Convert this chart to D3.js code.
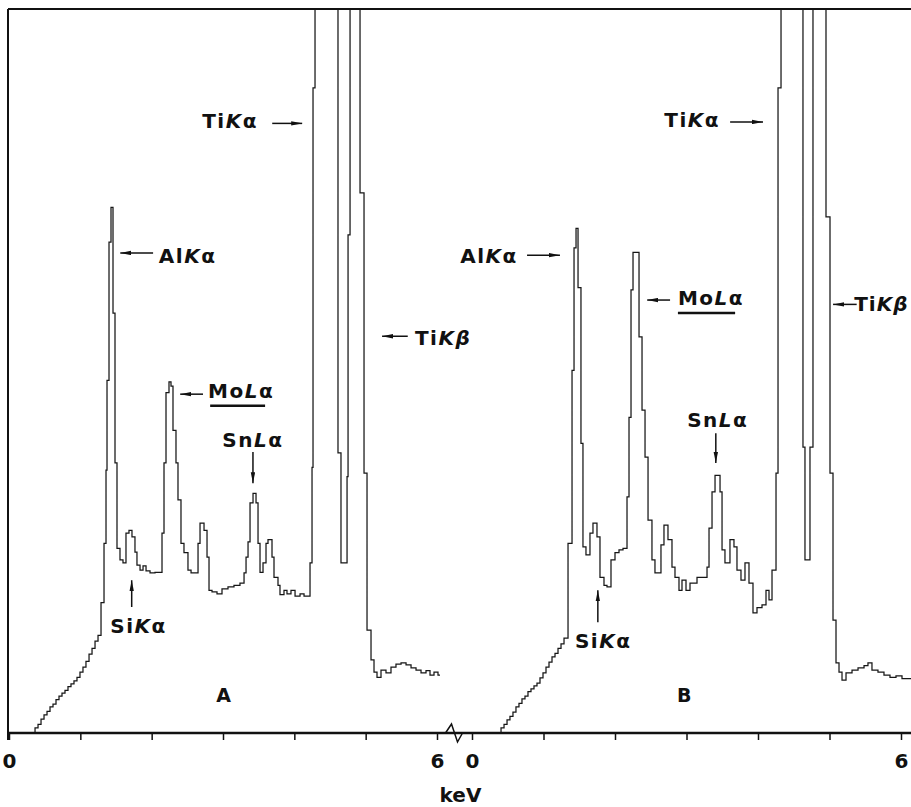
<!DOCTYPE html>
<html><head><meta charset="utf-8">
<script src="https://cdn.jsdelivr.net/npm/d3@7"></script>
<style>body{margin:0;background:#fff}svg{display:block}</style>
</head><body>
<script>
// ---- Spectrum A: channel edge energy (keV) and counts to the right of the edge (arb. units, full scale = 1000)
const energyA = [0.322,0.365,0.407,0.449,0.491,0.533,0.575,0.617,0.659,0.701,
  0.743,0.785,0.827,0.869,0.911,0.953,0.995,1.037,1.079,1.122,
  1.164,1.206,1.248,
  1.290,1.332,1.360,1.374,1.402,
  1.430,1.458,1.486,1.514,1.556,1.598,1.640,1.682,1.724,1.766,
  1.794,1.837,1.879,1.921,1.977,2.047,2.145,2.173,2.201,2.243,
  2.271,2.299,2.341,2.369,2.411,2.453,2.509,2.552,2.650,2.678,
  2.734,2.776,2.804,2.846,2.916,2.986,3.070,3.154,3.238,3.295,
  3.323,3.351,3.379,3.421,3.463,3.491,3.519,3.561,3.603,3.631,
  3.687,3.715,3.771,3.799,3.855,3.897,3.953,4.010,4.080,4.136,
  4.220,4.248,4.262,4.290,4.612,4.654,4.739,4.753,4.781,4.921,
  4.977,5.019,5.075,5.117,5.159,5.215,5.285,5.355,5.425,5.496,
  5.566,5.636,5.706,5.776,5.846,5.902,5.958,6.014,6.042];
const countsA = [0,7,12,19,25,30,36,40,46,51,
  55,59,64,68,72,77,84,91,99,109,
  117,127,135,
  180,262,363,487,678,
  726,580,373,255,239,235,276,280,271,250,
  232,225,231,224,221,222,276,373,470,485,
  479,418,373,322,262,249,225,221,262,290,
  280,243,197,195,192,199,202,204,207,221,
  243,264,318,331,318,262,222,235,262,267,
  243,215,204,191,197,192,197,189,192,189,
  235,367,891,3200,387,235,354,688,1450,746,
  359,142,101,84,77,87,83,91,95,97,
  94,90,87,83,86,80,84,80,80];

// ---- Spectrum B
const energyB = [0.364,0.406,0.448,0.490,0.531,0.573,0.615,0.657,0.699,0.741,
  0.783,0.825,0.867,0.909,0.951,0.993,1.035,1.077,1.119,1.161,
  1.203,1.245,1.287,
  1.343,1.399,1.427,1.455,
  1.483,1.524,1.552,1.594,1.650,1.692,1.748,1.790,1.846,1.888,
  1.944,2.000,2.056,2.112,2.168,2.196,2.224,2.252,2.336,2.378,
  2.420,2.462,2.517,2.559,2.643,2.685,2.741,2.797,2.839,2.895,
  2.937,2.993,3.049,3.147,3.287,3.315,3.357,3.399,3.469,3.497,
  3.538,3.608,3.664,3.706,3.762,3.818,3.874,3.930,3.986,4.056,
  4.112,4.154,4.196,4.252,4.280,4.322,4.629,4.657,4.727,4.769,
  4.951,5.007,5.049,5.091,5.133,5.175,5.231,5.315,5.399,5.483,
  5.538,5.594,5.678,5.762,5.846,5.930,6.014,6.140];
const countsB = [0,7,12,18,23,29,36,41,47,51,
  57,61,65,69,76,83,91,98,105,110,
  117,123,131,
  262,501,670,697,
  615,400,257,246,276,290,271,215,204,202,
  239,249,253,255,326,436,612,664,547,446,
  381,294,239,221,260,287,267,229,215,197,
  211,197,207,215,229,283,333,356,333,253,
  235,267,257,225,211,235,207,166,173,177,
  197,184,225,359,891,3300,395,239,395,1500,
  713,359,156,97,84,73,83,87,90,93,
  97,87,84,80,77,79,75,75];

const tickValues = [0,1,2,3,4,5,6];
const labelledTicks = [0,6];
const panelNames = ["A","B"];
const axisTitle = "keV";

// annotations (data units: keV, counts)
const annotationsA = [
  {parts:[["Ti",0],["K",1],["α",0]], x:3.49, y:836, anchor:"end", arrow:[3.69,842,4.11,842]},
  {parts:[["Al",0],["K",1],["α",0]], x:2.10, y:649, anchor:"start", arrow:[2.02,663,1.56,663]},
  {parts:[["Ti",0],["K",1],["β",1]], x:5.69, y:536, anchor:"start", arrow:[5.59,548,5.23,548]},
  {parts:[["Mo",0],["L",1],["α",0]], x:2.79, y:463, anchor:"start", arrow:[2.72,468,2.40,468], underline:[2.82,3.59,452]},
  {parts:[["Sn",0],["L",1],["α",0]], x:2.99, y:395, anchor:"start", arrow:[3.42,388,3.42,345]},
  {parts:[["Si",0],["K",1],["α",0]], x:1.42, y:138, anchor:"start", arrow:[1.72,174,1.72,211]}
];
const annotationsB = [
  {parts:[["Ti",0],["K",1],["α",0]], x:3.47, y:837, anchor:"end", arrow:[3.61,844,4.07,844]},
  {parts:[["Al",0],["K",1],["α",0]], x:0.64, y:649, anchor:"end", arrow:[0.77,660,1.23,660]},
  {parts:[["Mo",0],["L",1],["α",0]], x:2.88, y:591, anchor:"start", arrow:[2.77,598,2.45,598], underline:[2.88,3.68,580]},
  {parts:[["Ti",0],["K",1],["β",1]], x:6.105, y:583, anchor:"end", spacing:1, arrow:[5.38,592,5.05,592]},
  {parts:[["Sn",0],["L",1],["α",0]], x:3.01, y:423, anchor:"start", arrow:[3.41,414,3.41,373]},
  {parts:[["Si",0],["K",1],["α",0]], x:1.44, y:117, anchor:"start", arrow:[1.76,153,1.76,197]}
];
const panelLabelPos = [[3.01,43],[2.97,43]];

const W = 911, H = 807;
const FONT = "'DejaVu Sans', sans-serif";
const svg = d3.select("body").append("svg").attr("width", W).attr("height", H);

const y = d3.scaleLinear().domain([0, 1000]).range([733, 9]);
const xA = d3.scaleLinear().domain([0, 6]).range([9, 437]);
const xB = d3.scaleLinear().domain([0, 6]).range([472, 901]);

const defs = svg.append("defs");
defs.append("clipPath").attr("id","plotclip").append("rect")
  .attr("x", 8).attr("y", y(1000)).attr("width", W - 8).attr("height", y(0) - y(1000));
defs.append("marker").attr("id","ah").attr("viewBox","0 0 11 5")
  .attr("refX",11).attr("refY",2.5).attr("markerWidth",11).attr("markerHeight",5)
  .attr("markerUnits","userSpaceOnUse").attr("orient","auto")
  .append("path").attr("d","M0,0.3 L11,2.5 L0,4.7 Z").attr("fill","#111");

// spectra
const spectra = [
  {x:xA, e:energyA, c:countsA},
  {x:xB, e:energyB, c:countsB}
];
const g = svg.append("g").attr("clip-path","url(#plotclip)");
spectra.forEach(s => {
  const pts = s.e.map((e,i)=>[e, s.c[i]]);
  const line = d3.line().x(d=>s.x(d[0])).y(d=>y(d[1])).curve(d3.curveStepAfter);
  g.append("path").datum(pts).attr("d", line)
    .attr("fill","none").attr("stroke","#161616").attr("stroke-width",1.25)
    .attr("stroke-linejoin","miter");
});

// frame: top line and left line
svg.append("line").attr("x1",8).attr("x2",W).attr("y1",y(1000)).attr("y2",y(1000))
  .attr("stroke","#111").attr("stroke-width",2);
svg.append("line").attr("x1",xA(0)-1).attr("x2",xA(0)-1).attr("y1",y(1000)).attr("y2",y(0)+7)
  .attr("stroke","#111").attr("stroke-width",2);

// axes
[xA, xB].forEach(sc => {
  const ax = d3.axisBottom(sc).tickValues(tickValues).tickSize(7)
    .tickFormat(d => labelledTicks.includes(d) ? d : "");
  const ga = svg.append("g").attr("transform",`translate(0,${y(0)})`).call(ax);
  ga.select(".domain").remove();
  ga.selectAll(".tick line").attr("stroke","#111").attr("stroke-width",1.5);
  ga.selectAll(".tick text").attr("y",35).attr("dy",0).attr("fill","#111")
    .attr("font-family",FONT).attr("font-weight","bold").attr("font-size",20);
});
// baseline
svg.append("line").attr("x1",8).attr("x2",W).attr("y1",y(0)).attr("y2",y(0))
  .attr("stroke","#111").attr("stroke-width",2.5);
// axis break mark
const mid = (xA(6)+xB(0))/2;
svg.append("path")
  .attr("d",`M${mid-9},${y(0)} L${mid-3},${y(0)-9} L${mid+3},${y(0)+9} L${mid+8},${y(0)}`)
  .attr("fill","none").attr("stroke","#111").attr("stroke-width",1.5);
svg.append("text").attr("x",mid+6).attr("y",y(0)+69).attr("text-anchor","middle")
  .attr("font-family",FONT).attr("font-weight","bold").attr("font-size",20).attr("fill","#111")
  .text(axisTitle);

// annotations
function drawAnn(list, sc){
  list.forEach(a => {
    const t = svg.append("text").attr("x", sc(a.x)).attr("y", y(a.y))
      .attr("text-anchor", a.anchor).attr("font-family",FONT).attr("font-weight","bold")
      .attr("font-size",20).attr("letter-spacing", a.spacing != null ? a.spacing : 1.5).attr("fill","#111");
    a.parts.forEach(p => t.append("tspan").attr("font-style", p[1] ? "italic" : "normal").text(p[0]));
    const ar = a.arrow;
    svg.append("line").attr("x1",sc(ar[0])).attr("y1",y(ar[1])).attr("x2",sc(ar[2])).attr("y2",y(ar[3]))
      .attr("stroke","#111").attr("stroke-width",1.5).attr("marker-end","url(#ah)");
    if (a.underline){
      svg.append("line").attr("x1",sc(a.underline[0])).attr("x2",sc(a.underline[1]))
        .attr("y1",y(a.underline[2])).attr("y2",y(a.underline[2]))
        .attr("stroke","#111").attr("stroke-width",2.5);
    }
  });
}
drawAnn(annotationsA, xA);
drawAnn(annotationsB, xB);

[xA, xB].forEach((sc,i) => {
  svg.append("text").attr("x", sc(panelLabelPos[i][0])).attr("y", y(panelLabelPos[i][1]))
    .attr("text-anchor","middle").attr("font-family",FONT).attr("font-weight","bold")
    .attr("font-size",19).attr("fill","#111").text(panelNames[i]);
});
</script>
</body></html>
